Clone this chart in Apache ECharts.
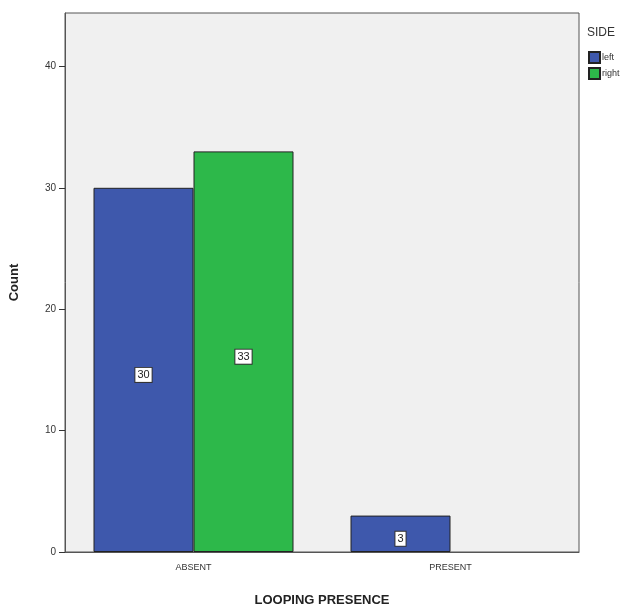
<!DOCTYPE html>
<html>
<head>
<meta charset="utf-8">
<script src="https://cdn.jsdelivr.net/npm/echarts@6/dist/echarts.min.js"></script>
<style>html,body{margin:0;padding:0;background:#fff;}#c{width:626px;height:612px;}</style>
</head>
<body>
<div id="c"></div>
<script>
var categories = ['ABSENT', 'PRESENT'];
var leftValues = [30, 3];
var rightValues = [33, 0];
var yTicks = [0, 10, 20, 30, 40];
var seriesNames = ['left', 'right'];

var chart = echarts.init(document.getElementById('c'));
var font = 'Liberation Sans, Arial, sans-serif';
var labelStyle = {
  show: true, position: 'inside', offset: [0, 5],
  backgroundColor: '#fff', borderColor: '#333', borderWidth: 1,
  padding: [2, 2, 1, 2], color: '#222', fontSize: 11, fontFamily: font
};
function items(vals){
  return vals.map(function(v){
    return v > 0 ? v : { value: v, label: { show: false }, itemStyle: { borderWidth: 0 } };
  });
}
chart.setOption({
  animation: false,
  title: { text: 'SIDE', left: 582, top: 22, textStyle: { fontSize: 12, fontWeight: 'normal', color: '#333', fontFamily: font } },
  legend: {
    data: seriesNames, orient: 'vertical', left: 583, top: 46,
    itemWidth: 11, itemHeight: 11, itemGap: 3,
    textStyle: { fontSize: 9, color: '#333', fontFamily: font, padding: [0,0,0,-3] },
    icon: 'rect'
  },
  grid: { left: 65, right: 47, top: 13, bottom: 54, show: true, backgroundColor: '#f0f0f0', borderColor: '#555', borderWidth: 1 },
  xAxis: {
    type: 'category', data: categories,
    name: 'LOOPING PRESENCE', nameLocation: 'middle', nameGap: 42,
    nameTextStyle: { fontSize: 13, fontWeight: 'bold', color: '#222', fontFamily: font },
    axisLine: { lineStyle: { color: '#555' } },
    axisTick: { alignWithLabel: true, length: 7, lineStyle: { color: '#333' } },
    axisLabel: { fontSize: 9, color: '#333', fontFamily: font, margin: 11 }
  },
  yAxis: {
    type: 'value', min: 0, max: 44.4, interval: 10,
    name: 'Count', nameLocation: 'middle', nameGap: 44,
    nameTextStyle: { fontSize: 13, fontWeight: 'bold', color: '#222', fontFamily: font },
    axisLine: { show: true, lineStyle: { color: '#555' } },
    axisTick: { show: true, length: 6, customValues: yTicks, lineStyle: { color: '#333' } },
    axisLabel: { customValues: yTicks, fontSize: 10, color: '#333', fontFamily: font, margin: 9 },
    splitLine: { show: false }
  },
  series: [
    { name: seriesNames[0], type: 'bar', data: items(leftValues), barWidth: 100, barGap: '0%',
      itemStyle: { color: '#3e58ac', borderColor: '#222', borderWidth: 1 }, label: labelStyle },
    { name: seriesNames[1], type: 'bar', data: items(rightValues), barWidth: 100,
      itemStyle: { color: '#2db84a', borderColor: '#222', borderWidth: 1 }, label: labelStyle }
  ]
});
</script>
</body>
</html>
